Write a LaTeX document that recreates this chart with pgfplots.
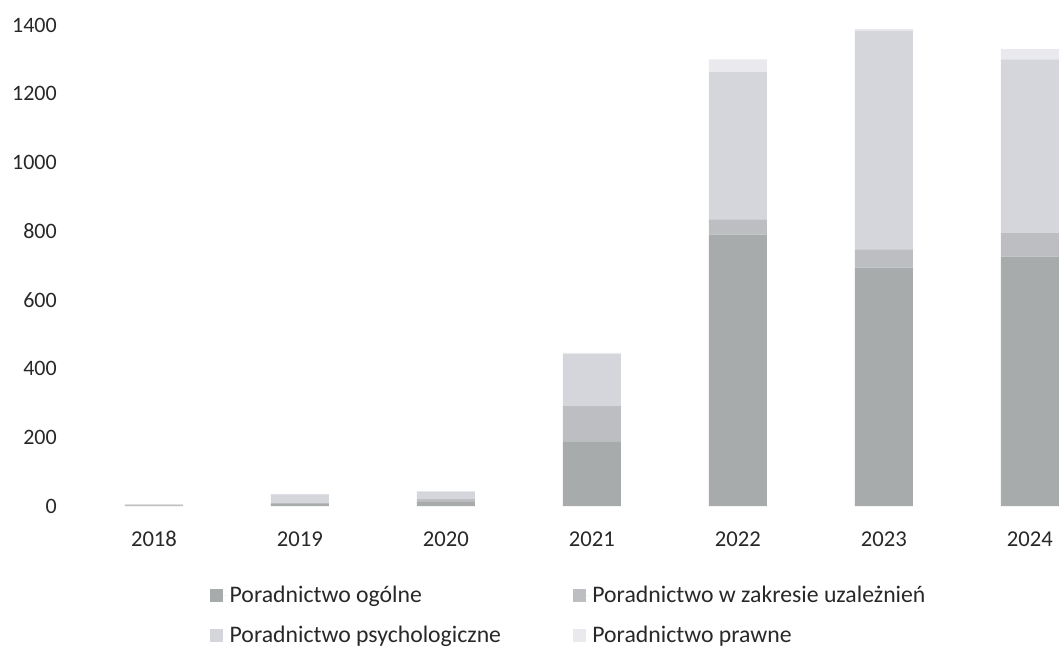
\documentclass[border=0pt]{standalone}
\usepackage{fontspec}
\setmainfont{Carlito}
\usepackage{pgfplots}
\pgfplotsset{compat=1.18}

\definecolor{cOgolne}{RGB}{168,171,171}
\definecolor{cUzal}{RGB}{188,190,193}
\definecolor{cPsych}{RGB}{212,214,220}
\definecolor{cPrawne}{RGB}{234,234,238}
\definecolor{txt}{RGB}{40,40,40}

\pgfplotstableread{
x year ogolne uzal psych prawne
0 2018 2 1 2 0
1 2019 6 4 24 1
2 2020 12 8 22 1
3 2021 187 105 150 4
4 2022 790 44 429 37
5 2023 694 53 636 5
6 2024 726 70 504 30
}\dane

\begin{document}
\begin{tikzpicture}
\useasboundingbox (0,0) rectangle (794.25pt,487.5pt);
\begin{axis}[
    at={(60.75pt,108pt)}, anchor=south west,
    scale only axis,
    width=733.5pt, height=360.75pt,
    ybar stacked,
    bar width=43.5pt,
    xmin=-0.5, xmax=6.2,
    ymin=0, ymax=1400,
    xtick=data,
    xticklabels={2018,2019,2020,2021,2022,2023,2024},
    ytick={0,200,...,1400},
    axis line style={draw=none},
    major tick length=0pt,
    font=\fontsize{16.5}{20}\selectfont,
    /pgf/number format/assume math mode=true,
    /pgf/number format/1000 sep={},
    ticklabel style={text=txt, inner sep=0pt},
    yticklabel style={anchor=east, xshift=-18pt},
    xticklabel style={anchor=base, yshift=-30pt, font=\fontsize{17}{20}\selectfont},
    legend columns=2,
    legend cell align=left,
    legend image code/.code={%
        \fill[#1,draw=none] (0pt,-4.9pt) rectangle (9.75pt,4.9pt);
        \path (0pt,0pt) -- (12.5pt,0pt);},
    legend style={
        at={(0.132,-0.160)}, anchor=north west,
        draw=none, fill=none, inner sep=0pt,
        text=txt,
        font=\fontsize{17.8}{21}\selectfont,
        /tikz/every even column/.append style={column sep=52pt},
        row sep=12.5pt,
    },
]
\addplot[fill=cOgolne, draw=none] table[x=x, y=ogolne] {\dane};
\addplot[fill=cUzal, draw=none] table[x=x, y=uzal] {\dane};
\addplot[fill=cPsych, draw=none] table[x=x, y=psych] {\dane};
\addplot[fill=cPrawne, draw=none] table[x=x, y=prawne] {\dane};
\legend{Poradnictwo ogólne, Poradnictwo w zakresie uzależnień, Poradnictwo psychologiczne, Poradnictwo prawne}
\end{axis}
\end{tikzpicture}
\end{document}
